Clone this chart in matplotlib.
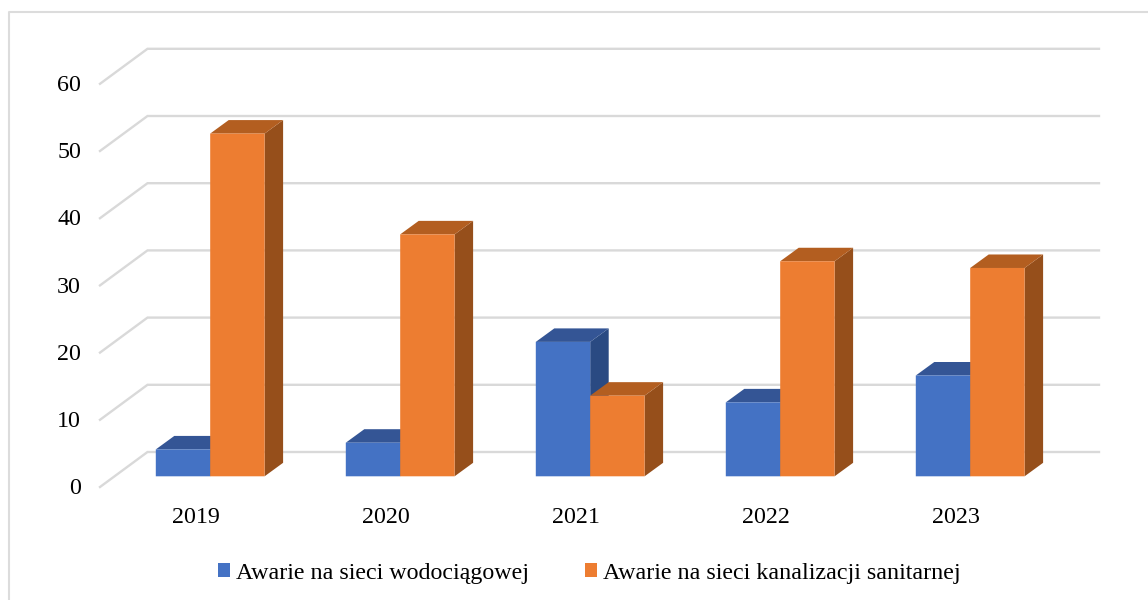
import matplotlib
matplotlib.use("Agg")
import matplotlib.pyplot as plt
from matplotlib.patches import Polygon, Patch
from matplotlib.lines import Line2D

years = ["2019", "2020", "2021", "2022", "2023"]
water = [4, 5, 20, 11, 15]
sewer = [51, 36, 12, 32, 31]
yticks = [0, 10, 20, 30, 40, 50, 60]
labels = ["Awarie na sieci wodociągowej", "Awarie na sieci kanalizacji sanitarnej"]

# pixels per data unit, the whole figure is one axes
px_x = 190.0
px_y = 6.72
x0 = 210.2
y0 = 476.3

plt.rcParams["font.family"] = ["Liberation Serif", "DejaVu Serif"]

fig = plt.figure(figsize=(11.48, 6), dpi=100)
ax = fig.add_axes([0, 0, 1, 1])
ax.set_xlim(-x0 / px_x, (1148 - x0) / px_x)
ax.set_ylim((y0 - 600) / px_y, y0 / px_y)
ax.axis("off")

grid_c = "#d9d9d9"
# depth of the fake 3d
dx = 18.5 / px_x
dy = 13.5 / px_y
w = 54.4 / px_x

# outer frame
ax.add_line(Line2D([(8.5 - x0) / px_x, (8.5 - x0) / px_x, (1148 - x0) / px_x],
                   [(y0 - 600) / px_y, (y0 - 12.3) / px_y, (y0 - 12.3) / px_y],
                   color="#dcdcdc", lw=1.5, zorder=1))

# gridlines: diagonal on the left then along the back wall
xa = (100 - x0) / px_x
xb = (147.5 - x0) / px_x
xc = (1099 - x0) / px_x
front_off = (y0 - 487) / px_y
back_off = (y0 - 452) / px_y
for v in yticks:
    ax.plot([xa, xb, xc], [v + front_off, v + back_off, v + back_off],
            color=grid_c, lw=1.7, solid_joinstyle="miter", zorder=2)
    ax.text((81 - x0) / px_x, v + front_off - 0.25, str(v), ha="right", va="center",
            fontsize=17.3, color="black")


def bar3d(x, v, front, top, side, z):
    ax.add_patch(Polygon([(x + w, 0), (x + w + dx, dy), (x + w + dx, v + dy), (x + w, v)],
                         fc=side, ec="none", zorder=z, snap=False))
    ax.add_patch(Polygon([(x, v), (x + dx, v + dy), (x + w + dx, v + dy), (x + w, v)],
                         fc=top, ec="none", zorder=z, snap=False))
    ax.add_patch(Polygon([(x, 0), (x + w, 0), (x + w, v), (x, v)],
                         fc=front, ec="none", zorder=z + 0.1, snap=False))


for i in range(len(years)):
    bar3d(i - w, water[i], "#4472c4", "#345595", "#2a4a82", 3 + i)
    bar3d(i, sewer[i], "#ed7d31", "#b35e20", "#964f1b", 3.5 + i)
    ax.text(i - 14 / px_x, (y0 - 517.5) / px_y, years[i], ha="center", va="center",
            fontsize=17.3, color="black")

handles = [Patch(fc="#4472c4", ec="none"), Patch(fc="#ed7d31", ec="none")]
ax.legend(handles, labels, loc="center", bbox_to_anchor=(589.5 / 1148, 1 - 573 / 600),
          ncol=2, frameon=False, fontsize=17.3, handlelength=0.5, handleheight=0.5,
          handletextpad=0.25, columnspacing=2.33, borderpad=0)

fig.savefig("out.png", dpi=100)
